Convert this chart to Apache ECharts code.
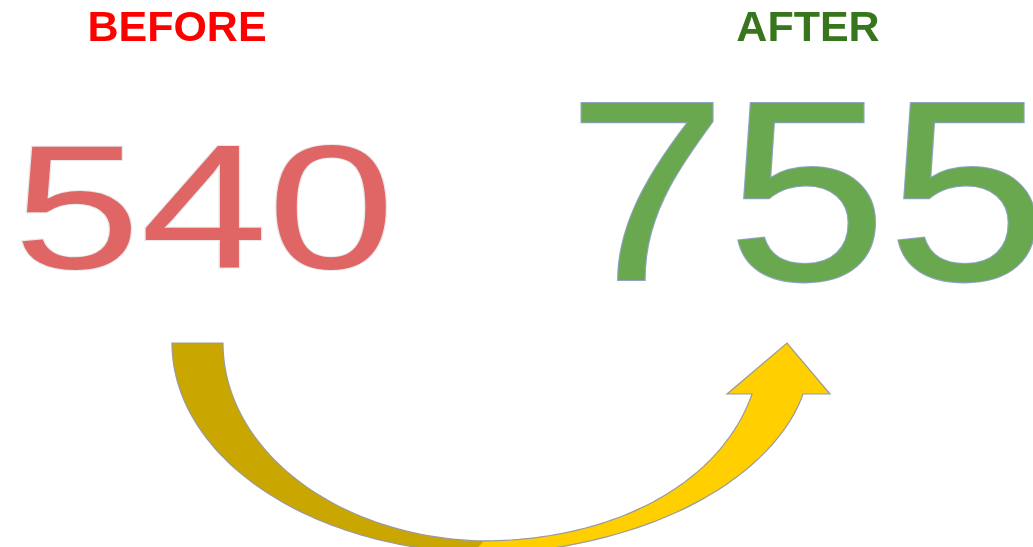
<!DOCTYPE html>
<html>
<head>
<meta charset="utf-8">
<script src="https://cdn.jsdelivr.net/npm/echarts@6/dist/echarts.min.js"></script>
<style>
html,body{margin:0;padding:0;background:#fff;}
#main{width:1033px;height:547px;}
</style>
</head>
<body>
<div id="main"></div>
<script>
// Data
const labels = ['BEFORE', 'AFTER'];
const values = [540, 755];
const labelColors = ['#FF0000', '#38761D'];
const valueColors = ['#E06666', '#6AA84F'];
const valueStrokes = ['#E8E8E8', '#8FA3C4'];

const chart = echarts.init(document.getElementById('main'), null, {renderer: 'canvas'});

// arrow geometry (decorative)
const cx = 490, cy = 343;
function ell(rx, ry, t) { return [cx + rx * Math.cos(t), cy + ry * Math.sin(t)]; }
function bez(p, t) {
  const u = 1 - t;
  return [
    u*u*u*p[0][0] + 3*u*u*t*p[1][0] + 3*u*t*t*p[2][0] + t*t*t*p[3][0],
    u*u*u*p[0][1] + 3*u*u*t*p[1][1] + 3*u*t*t*p[2][1] + t*t*t*p[3][1]
  ];
}
const N = 60;
const darkOuter = [], darkInner = [];
for (let i = 0; i <= N; i++) darkOuter.push(ell(318, 210, Math.PI / 2 + (Math.PI / 2) * i / N)); // bottom -> left top
for (let i = 0; i <= N; i++) darkInner.push(ell(267, 198, Math.PI - (Math.PI / 2) * i / N));     // left top -> bottom
const darkPts = darkOuter.concat(darkInner);

const oP = [[470, 556], [680, 548], [780, 460], [803, 394]];
const iP = [[484, 541], [620, 540], [722, 480], [752, 394]];
const yOuter = [], yInner = [];
for (let i = 0; i <= N; i++) yOuter.push(bez(oP, i / N));
for (let i = N; i >= 0; i--) yInner.push(bez(iP, i / N));
const head = [[830, 394], [787, 343], [727, 394]];
const yellowPts = yOuter.concat(head, yInner);

const labelPos = [[177, 29], [808, 29]];
const valuePos = [[204, 219], [807, 209]];
const valueSizes = [176, 257];
const valueScaleX = [1.3, 1.12];

const edge = {stroke: '#9A9A9A', lineWidth: 1.2, fill: null};
const graphics = [
  {type: 'polygon', shape: {points: darkPts}, style: {fill: '#C9A600'}},
  {type: 'polyline', shape: {points: darkPts}, style: edge},
  {type: 'polygon', shape: {points: yellowPts}, style: {fill: '#FFCF00'}},
  {type: 'polyline', shape: {points: yellowPts}, style: edge}
];
labels.forEach((l, i) => {
  graphics.push({
    type: 'text', x: labelPos[i][0], y: labelPos[i][1],
    style: {text: l, fill: labelColors[i], font: 'bold 43px "Liberation Sans", Arial, sans-serif',
      textAlign: 'center', textVerticalAlign: 'middle', verticalAlign: 'middle'}
  });
  graphics.push({
    type: 'text', x: valuePos[i][0], y: valuePos[i][1], scaleX: valueScaleX[i],
    style: {text: String(values[i]), fill: valueColors[i], stroke: valueStrokes[i], lineWidth: 2,
      font: valueSizes[i] + 'px "Liberation Sans", Arial, sans-serif',
      textAlign: 'center', textVerticalAlign: 'middle', verticalAlign: 'middle'}
  });
});

chart.setOption({animation: false, graphic: graphics});
</script>
</body>
</html>
